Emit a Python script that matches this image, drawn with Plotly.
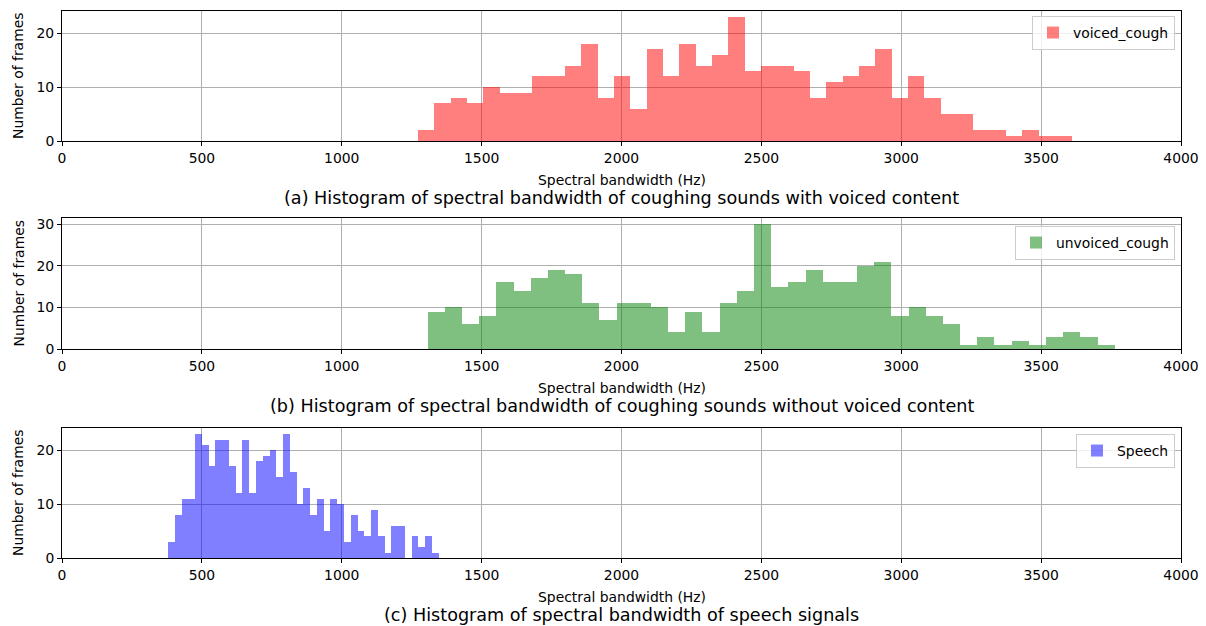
import plotly.graph_objects as go

# ---- data ----
voiced_start = 1272.6
voiced_width = 58.4
voiced_counts = [2, 7, 8, 7, 10, 9, 9, 12, 12, 14, 18, 8, 12, 6, 17, 12, 18, 14, 16, 23,
                 13, 14, 14, 13, 8, 11, 12, 14, 17, 8, 12, 8, 5, 5, 2, 2, 1, 2, 1, 1]

unvoiced_start = 1307.0
unvoiced_width = 61.4
unvoiced_counts = [9, 10, 6, 8, 16, 14, 17, 19, 18, 11, 7, 11, 11, 10, 4, 9, 4, 11, 14, 30,
                   15, 16, 19, 16, 16, 20, 21, 8, 10, 8, 6, 1, 3, 1, 2, 1, 3, 4, 3, 1]

speech_start = 378.9
speech_width = 24.2
speech_counts = [3, 8, 11, 11, 23, 21, 17, 22, 22, 17, 12, 22, 12, 18, 19, 20, 15, 23, 16, 10,
                 13, 8, 11, 5, 11, 10, 3, 8, 5, 4, 9, 4, 1, 6, 6, 0, 4, 2, 4, 1]

x_ticks = [0, 500, 1000, 1500, 2000, 2500, 3000, 3500, 4000]
captions = [
    "(a) Histogram of spectral bandwidth of coughing sounds with voiced content",
    "(b) Histogram of spectral bandwidth of coughing sounds without voiced content",
    "(c) Histogram of spectral bandwidth of speech signals",
]
names = ["voiced_cough", "unvoiced_cough", "Speech"]
colors = ["rgba(255,0,0,0.5)", "rgba(0,128,0,0.5)", "rgba(0,0,255,0.5)"]

W, H = 1206, 626
FONT = "DejaVu Sans"
FS = 13.9
CAP_FS = 17.6

def py(p):
    return 1 - p / H

def px(p):
    return p / W

# panel pixel boxes (top, bottom)
panels = [(11, 141), (218, 349), (428, 558)]
xl, xr = 62, 1181

fig = go.Figure()
series = [
    (voiced_start, voiced_width, voiced_counts),
    (unvoiced_start, unvoiced_width, unvoiced_counts),
    (speech_start, speech_width, speech_counts),
]
legend_tops = [16, 226, 434]

for i, (start, width, counts) in enumerate(series):
    centers = [start + (k + 0.5) * width for k in range(len(counts))]
    ax = "" if i == 0 else str(i + 1)
    fig.add_trace(go.Bar(
        x=centers, y=counts, width=width, name=names[i],
        marker=dict(color=colors[i], line=dict(width=0)),
        xaxis="x" + ax, yaxis="y" + ax,
        legend="legend" + ax, showlegend=True,
    ))

layout = dict(
    width=W, height=H,
    margin=dict(l=0, r=0, t=0, b=0),
    paper_bgcolor="white", plot_bgcolor="white",
    font=dict(family=FONT, size=FS, color="#000"),
    bargap=0,
    annotations=[],
)

ymaxes = [max(voiced_counts) * 1.05, max(unvoiced_counts) * 1.05, max(speech_counts) * 1.05]
yticks = [[0, 10, 20], [0, 10, 20, 30], [0, 10, 20]]

for i, (top, bot) in enumerate(panels):
    ax = "" if i == 0 else str(i + 1)
    layout["xaxis" + ax] = dict(
        domain=[px(xl), px(xr)], range=[0, 4000], anchor="y" + ax,
        tickvals=x_ticks, ticks="outside", ticklen=4, tickwidth=1, tickcolor="#000",
        showline=True, mirror=True, linecolor="#000", linewidth=1,
        showgrid=True, gridcolor="#b0b0b0", gridwidth=1, zeroline=False,
        tickfont=dict(size=FS, family=FONT), automargin=False,
    )
    layout["yaxis" + ax] = dict(
        domain=[py(bot), py(top)], range=[0, ymaxes[i]], anchor="x" + ax,
        tickvals=yticks[i], ticks="outside", ticklen=4, tickwidth=1, tickcolor="#000",
        showline=True, mirror=True, linecolor="#000", linewidth=1,
        showgrid=True, gridcolor="#b0b0b0", gridwidth=1, zeroline=False,
        tickfont=dict(size=FS, family=FONT), automargin=False,
    )
    layout["legend" + ax] = dict(
        x=px(1175), y=py(legend_tops[i]), xanchor="right", yanchor="top",
        bgcolor="rgba(255,255,255,0.8)", bordercolor="#cccccc", borderwidth=1,
        font=dict(size=FS, family=FONT),
    )
    # y-axis title
    layout["annotations"].append(dict(
        text="Number of frames", x=px(18), y=py((top + bot) / 2), xref="paper", yref="paper",
        textangle=-90, showarrow=False, font=dict(size=FS, family=FONT),
        xanchor="center", yanchor="middle",
    ))
    # x-axis title
    layout["annotations"].append(dict(
        text="Spectral bandwidth (Hz)", x=px((xl + xr) / 2), y=py(bot + 39), xref="paper", yref="paper",
        showarrow=False, font=dict(size=FS, family=FONT), xanchor="center", yanchor="middle",
    ))
    # caption
    layout["annotations"].append(dict(
        text=captions[i], x=px((xl + xr) / 2), y=py(bot + 57), xref="paper", yref="paper",
        showarrow=False, font=dict(size=CAP_FS, family=FONT), xanchor="center", yanchor="middle",
    ))

fig.update_layout(**layout)
fig.write_html("out.html")
